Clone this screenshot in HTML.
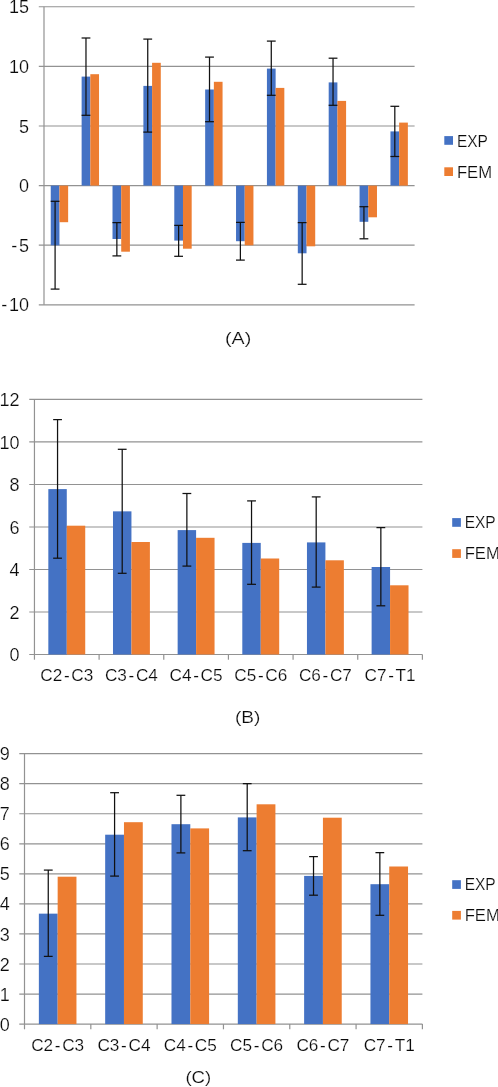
<!DOCTYPE html>
<html lang="en"><head><meta charset="utf-8"><title>EXP vs FEM charts</title>
<style>
html,body{margin:0;padding:0;background:#fff;}
svg{display:block;will-change:transform;}
text{font-family:"Liberation Sans",sans-serif;fill:#0a0a0a;stroke:#fff;stroke-width:0.2px;}
</style></head><body>
<svg width="498" height="1087" viewBox="0 0 498 1087">
<rect width="498" height="1087" fill="#ffffff"/>
<line x1="38.80" y1="6.74" x2="414.60" y2="6.74" stroke="#929292" stroke-width="1.2"/>
<line x1="38.80" y1="66.36" x2="414.60" y2="66.36" stroke="#929292" stroke-width="1.2"/>
<line x1="38.80" y1="125.98" x2="414.60" y2="125.98" stroke="#929292" stroke-width="1.2"/>
<line x1="38.80" y1="185.60" x2="414.60" y2="185.60" stroke="#929292" stroke-width="1.2"/>
<line x1="38.80" y1="245.22" x2="414.60" y2="245.22" stroke="#929292" stroke-width="1.2"/>
<line x1="38.80" y1="304.84" x2="414.60" y2="304.84" stroke="#929292" stroke-width="1.2"/>
<line x1="44.00" y1="6.74" x2="44.00" y2="304.84" stroke="#929292" stroke-width="1.2"/>
<rect x="50.74" y="185.60" width="8.70" height="59.70" fill="#4472C4"/>
<rect x="59.44" y="185.60" width="8.70" height="36.60" fill="#ED7D31"/>
<rect x="81.63" y="76.60" width="8.70" height="109.00" fill="#4472C4"/>
<rect x="90.33" y="74.20" width="8.70" height="111.40" fill="#ED7D31"/>
<rect x="112.51" y="185.60" width="8.70" height="53.40" fill="#4472C4"/>
<rect x="121.21" y="185.60" width="8.70" height="66.10" fill="#ED7D31"/>
<rect x="143.39" y="85.90" width="8.70" height="99.70" fill="#4472C4"/>
<rect x="152.09" y="62.80" width="8.70" height="122.80" fill="#ED7D31"/>
<rect x="174.28" y="185.60" width="8.70" height="55.00" fill="#4472C4"/>
<rect x="182.98" y="185.60" width="8.70" height="63.10" fill="#ED7D31"/>
<rect x="205.16" y="89.50" width="8.70" height="96.10" fill="#4472C4"/>
<rect x="213.86" y="81.80" width="8.70" height="103.80" fill="#ED7D31"/>
<rect x="236.04" y="185.60" width="8.70" height="55.60" fill="#4472C4"/>
<rect x="244.74" y="185.60" width="8.70" height="59.70" fill="#ED7D31"/>
<rect x="266.93" y="68.60" width="8.70" height="117.00" fill="#4472C4"/>
<rect x="275.63" y="87.90" width="8.70" height="97.70" fill="#ED7D31"/>
<rect x="297.81" y="185.60" width="8.70" height="67.70" fill="#4472C4"/>
<rect x="306.51" y="185.60" width="8.70" height="60.70" fill="#ED7D31"/>
<rect x="328.69" y="82.40" width="8.70" height="103.20" fill="#4472C4"/>
<rect x="337.39" y="100.90" width="8.70" height="84.70" fill="#ED7D31"/>
<rect x="359.58" y="185.60" width="8.70" height="36.20" fill="#4472C4"/>
<rect x="368.28" y="185.60" width="8.70" height="31.70" fill="#ED7D31"/>
<rect x="390.46" y="131.40" width="8.70" height="54.20" fill="#4472C4"/>
<rect x="399.16" y="122.60" width="8.70" height="63.00" fill="#ED7D31"/>
<line x1="55.09" y1="201.30" x2="55.09" y2="289.10" stroke="#111111" stroke-width="1.25"/>
<line x1="50.69" y1="201.30" x2="59.49" y2="201.30" stroke="#111111" stroke-width="1.25"/>
<line x1="50.69" y1="289.10" x2="59.49" y2="289.10" stroke="#111111" stroke-width="1.25"/>
<line x1="85.98" y1="38.00" x2="85.98" y2="115.30" stroke="#111111" stroke-width="1.25"/>
<line x1="81.58" y1="38.00" x2="90.38" y2="38.00" stroke="#111111" stroke-width="1.25"/>
<line x1="81.58" y1="115.30" x2="90.38" y2="115.30" stroke="#111111" stroke-width="1.25"/>
<line x1="116.86" y1="222.60" x2="116.86" y2="255.90" stroke="#111111" stroke-width="1.25"/>
<line x1="112.46" y1="222.60" x2="121.26" y2="222.60" stroke="#111111" stroke-width="1.25"/>
<line x1="112.46" y1="255.90" x2="121.26" y2="255.90" stroke="#111111" stroke-width="1.25"/>
<line x1="147.74" y1="39.10" x2="147.74" y2="132.10" stroke="#111111" stroke-width="1.25"/>
<line x1="143.34" y1="39.10" x2="152.14" y2="39.10" stroke="#111111" stroke-width="1.25"/>
<line x1="143.34" y1="132.10" x2="152.14" y2="132.10" stroke="#111111" stroke-width="1.25"/>
<line x1="178.63" y1="225.40" x2="178.63" y2="256.30" stroke="#111111" stroke-width="1.25"/>
<line x1="174.23" y1="225.40" x2="183.03" y2="225.40" stroke="#111111" stroke-width="1.25"/>
<line x1="174.23" y1="256.30" x2="183.03" y2="256.30" stroke="#111111" stroke-width="1.25"/>
<line x1="209.51" y1="57.10" x2="209.51" y2="121.70" stroke="#111111" stroke-width="1.25"/>
<line x1="205.11" y1="57.10" x2="213.91" y2="57.10" stroke="#111111" stroke-width="1.25"/>
<line x1="205.11" y1="121.70" x2="213.91" y2="121.70" stroke="#111111" stroke-width="1.25"/>
<line x1="240.39" y1="222.40" x2="240.39" y2="260.10" stroke="#111111" stroke-width="1.25"/>
<line x1="235.99" y1="222.40" x2="244.79" y2="222.40" stroke="#111111" stroke-width="1.25"/>
<line x1="235.99" y1="260.10" x2="244.79" y2="260.10" stroke="#111111" stroke-width="1.25"/>
<line x1="271.28" y1="41.10" x2="271.28" y2="95.30" stroke="#111111" stroke-width="1.25"/>
<line x1="266.88" y1="41.10" x2="275.68" y2="41.10" stroke="#111111" stroke-width="1.25"/>
<line x1="266.88" y1="95.30" x2="275.68" y2="95.30" stroke="#111111" stroke-width="1.25"/>
<line x1="302.16" y1="222.60" x2="302.16" y2="284.30" stroke="#111111" stroke-width="1.25"/>
<line x1="297.76" y1="222.60" x2="306.56" y2="222.60" stroke="#111111" stroke-width="1.25"/>
<line x1="297.76" y1="284.30" x2="306.56" y2="284.30" stroke="#111111" stroke-width="1.25"/>
<line x1="333.04" y1="58.20" x2="333.04" y2="105.30" stroke="#111111" stroke-width="1.25"/>
<line x1="328.64" y1="58.20" x2="337.44" y2="58.20" stroke="#111111" stroke-width="1.25"/>
<line x1="328.64" y1="105.30" x2="337.44" y2="105.30" stroke="#111111" stroke-width="1.25"/>
<line x1="363.93" y1="206.70" x2="363.93" y2="238.80" stroke="#111111" stroke-width="1.25"/>
<line x1="359.53" y1="206.70" x2="368.33" y2="206.70" stroke="#111111" stroke-width="1.25"/>
<line x1="359.53" y1="238.80" x2="368.33" y2="238.80" stroke="#111111" stroke-width="1.25"/>
<line x1="394.81" y1="106.30" x2="394.81" y2="156.50" stroke="#111111" stroke-width="1.25"/>
<line x1="390.41" y1="106.30" x2="399.21" y2="106.30" stroke="#111111" stroke-width="1.25"/>
<line x1="390.41" y1="156.50" x2="399.21" y2="156.50" stroke="#111111" stroke-width="1.25"/>
<text x="29.00" y="13.29" text-anchor="end" font-size="18.0">15</text>
<text x="29.00" y="72.91" text-anchor="end" font-size="18.0">10</text>
<text x="29.00" y="132.53" text-anchor="end" font-size="18.0">5</text>
<text x="29.00" y="192.15" text-anchor="end" font-size="18.0">0</text>
<text x="29.00" y="251.77" text-anchor="end" font-size="18.0">-<tspan dx="1.7">5</tspan></text>
<text x="29.00" y="311.39" text-anchor="end" font-size="18.0">-<tspan dx="1.7">10</tspan></text>
<rect x="444.30" y="136.10" width="8.70" height="8.70" fill="#4472C4"/>
<rect x="444.30" y="167.30" width="8.70" height="8.70" fill="#ED7D31"/>
<text x="456.90" y="146.60" text-anchor="start" font-size="17.2" textLength="31.00" lengthAdjust="spacingAndGlyphs">EXP</text>
<text x="456.90" y="177.50" text-anchor="start" font-size="17.2" textLength="35.20" lengthAdjust="spacingAndGlyphs">FEM</text>
<text x="238.10" y="344.20" text-anchor="middle" font-size="17.4" textLength="26.20" lengthAdjust="spacingAndGlyphs">(A)</text>
<line x1="29.25" y1="399.46" x2="422.40" y2="399.46" stroke="#929292" stroke-width="1.2"/>
<line x1="29.25" y1="441.97" x2="422.40" y2="441.97" stroke="#929292" stroke-width="1.2"/>
<line x1="29.25" y1="484.48" x2="422.40" y2="484.48" stroke="#929292" stroke-width="1.2"/>
<line x1="29.25" y1="526.98" x2="422.40" y2="526.98" stroke="#929292" stroke-width="1.2"/>
<line x1="29.25" y1="569.49" x2="422.40" y2="569.49" stroke="#929292" stroke-width="1.2"/>
<line x1="29.25" y1="611.99" x2="422.40" y2="611.99" stroke="#929292" stroke-width="1.2"/>
<line x1="29.25" y1="654.50" x2="422.40" y2="654.50" stroke="#929292" stroke-width="1.2"/>
<line x1="34.45" y1="399.46" x2="34.45" y2="654.50" stroke="#929292" stroke-width="1.2"/>
<line x1="34.45" y1="654.50" x2="34.45" y2="659.70" stroke="#929292" stroke-width="1.2"/>
<line x1="99.11" y1="654.50" x2="99.11" y2="659.70" stroke="#929292" stroke-width="1.2"/>
<line x1="163.77" y1="654.50" x2="163.77" y2="659.70" stroke="#929292" stroke-width="1.2"/>
<line x1="228.43" y1="654.50" x2="228.43" y2="659.70" stroke="#929292" stroke-width="1.2"/>
<line x1="293.08" y1="654.50" x2="293.08" y2="659.70" stroke="#929292" stroke-width="1.2"/>
<line x1="357.74" y1="654.50" x2="357.74" y2="659.70" stroke="#929292" stroke-width="1.2"/>
<line x1="422.40" y1="654.50" x2="422.40" y2="659.70" stroke="#929292" stroke-width="1.2"/>
<rect x="48.33" y="489.10" width="18.45" height="165.40" fill="#4472C4"/>
<rect x="66.78" y="525.70" width="18.45" height="128.80" fill="#ED7D31"/>
<rect x="112.99" y="511.35" width="18.45" height="143.15" fill="#4472C4"/>
<rect x="131.44" y="542.00" width="18.45" height="112.50" fill="#ED7D31"/>
<rect x="177.65" y="530.10" width="18.45" height="124.40" fill="#4472C4"/>
<rect x="196.10" y="537.80" width="18.45" height="116.70" fill="#ED7D31"/>
<rect x="242.30" y="542.90" width="18.45" height="111.60" fill="#4472C4"/>
<rect x="260.75" y="558.50" width="18.45" height="96.00" fill="#ED7D31"/>
<rect x="306.96" y="542.40" width="18.45" height="112.10" fill="#4472C4"/>
<rect x="325.41" y="560.30" width="18.45" height="94.20" fill="#ED7D31"/>
<rect x="371.62" y="567.00" width="18.45" height="87.50" fill="#4472C4"/>
<rect x="390.07" y="585.30" width="18.45" height="69.20" fill="#ED7D31"/>
<line x1="57.55" y1="419.60" x2="57.55" y2="558.20" stroke="#111111" stroke-width="1.25"/>
<line x1="53.15" y1="419.60" x2="61.95" y2="419.60" stroke="#111111" stroke-width="1.25"/>
<line x1="53.15" y1="558.20" x2="61.95" y2="558.20" stroke="#111111" stroke-width="1.25"/>
<line x1="122.21" y1="449.30" x2="122.21" y2="573.30" stroke="#111111" stroke-width="1.25"/>
<line x1="117.81" y1="449.30" x2="126.61" y2="449.30" stroke="#111111" stroke-width="1.25"/>
<line x1="117.81" y1="573.30" x2="126.61" y2="573.30" stroke="#111111" stroke-width="1.25"/>
<line x1="186.87" y1="493.50" x2="186.87" y2="566.10" stroke="#111111" stroke-width="1.25"/>
<line x1="182.47" y1="493.50" x2="191.27" y2="493.50" stroke="#111111" stroke-width="1.25"/>
<line x1="182.47" y1="566.10" x2="191.27" y2="566.10" stroke="#111111" stroke-width="1.25"/>
<line x1="251.53" y1="500.90" x2="251.53" y2="584.30" stroke="#111111" stroke-width="1.25"/>
<line x1="247.13" y1="500.90" x2="255.93" y2="500.90" stroke="#111111" stroke-width="1.25"/>
<line x1="247.13" y1="584.30" x2="255.93" y2="584.30" stroke="#111111" stroke-width="1.25"/>
<line x1="316.19" y1="496.90" x2="316.19" y2="587.10" stroke="#111111" stroke-width="1.25"/>
<line x1="311.79" y1="496.90" x2="320.59" y2="496.90" stroke="#111111" stroke-width="1.25"/>
<line x1="311.79" y1="587.10" x2="320.59" y2="587.10" stroke="#111111" stroke-width="1.25"/>
<line x1="380.85" y1="527.60" x2="380.85" y2="605.80" stroke="#111111" stroke-width="1.25"/>
<line x1="376.45" y1="527.60" x2="385.25" y2="527.60" stroke="#111111" stroke-width="1.25"/>
<line x1="376.45" y1="605.80" x2="385.25" y2="605.80" stroke="#111111" stroke-width="1.25"/>
<text x="19.40" y="406.01" text-anchor="end" font-size="18.0">12</text>
<text x="19.40" y="448.52" text-anchor="end" font-size="18.0">10</text>
<text x="19.40" y="491.03" text-anchor="end" font-size="18.0">8</text>
<text x="19.40" y="533.53" text-anchor="end" font-size="18.0">6</text>
<text x="19.40" y="576.04" text-anchor="end" font-size="18.0">4</text>
<text x="19.40" y="618.54" text-anchor="end" font-size="18.0">2</text>
<text x="19.40" y="661.05" text-anchor="end" font-size="18.0">0</text>
<text x="66.78" y="680.90" text-anchor="middle" font-size="17.2">C2<tspan dx="1.65">-</tspan><tspan dx="1.65">C3</tspan></text>
<text x="131.44" y="680.90" text-anchor="middle" font-size="17.2">C3<tspan dx="1.65">-</tspan><tspan dx="1.65">C4</tspan></text>
<text x="196.10" y="680.90" text-anchor="middle" font-size="17.2">C4<tspan dx="1.65">-</tspan><tspan dx="1.65">C5</tspan></text>
<text x="260.75" y="680.90" text-anchor="middle" font-size="17.2">C5<tspan dx="1.65">-</tspan><tspan dx="1.65">C6</tspan></text>
<text x="325.41" y="680.90" text-anchor="middle" font-size="17.2">C6<tspan dx="1.65">-</tspan><tspan dx="1.65">C7</tspan></text>
<text x="390.07" y="680.90" text-anchor="middle" font-size="17.2">C7<tspan dx="1.65">-</tspan><tspan dx="1.65">T1</tspan></text>
<rect x="452.20" y="518.10" width="8.70" height="8.70" fill="#4472C4"/>
<rect x="452.20" y="549.20" width="8.70" height="8.70" fill="#ED7D31"/>
<text x="464.70" y="528.20" text-anchor="start" font-size="17.2" textLength="31.00" lengthAdjust="spacingAndGlyphs">EXP</text>
<text x="464.70" y="559.30" text-anchor="start" font-size="17.2" textLength="35.20" lengthAdjust="spacingAndGlyphs">FEM</text>
<text x="247.60" y="722.70" text-anchor="middle" font-size="17.2" textLength="25.40" lengthAdjust="spacingAndGlyphs">(B)</text>
<line x1="19.30" y1="753.65" x2="422.40" y2="753.65" stroke="#929292" stroke-width="1.2"/>
<line x1="19.30" y1="783.70" x2="422.40" y2="783.70" stroke="#929292" stroke-width="1.2"/>
<line x1="19.30" y1="813.75" x2="422.40" y2="813.75" stroke="#929292" stroke-width="1.2"/>
<line x1="19.30" y1="843.80" x2="422.40" y2="843.80" stroke="#929292" stroke-width="1.2"/>
<line x1="19.30" y1="873.85" x2="422.40" y2="873.85" stroke="#929292" stroke-width="1.2"/>
<line x1="19.30" y1="903.90" x2="422.40" y2="903.90" stroke="#929292" stroke-width="1.2"/>
<line x1="19.30" y1="933.95" x2="422.40" y2="933.95" stroke="#929292" stroke-width="1.2"/>
<line x1="19.30" y1="964.00" x2="422.40" y2="964.00" stroke="#929292" stroke-width="1.2"/>
<line x1="19.30" y1="994.05" x2="422.40" y2="994.05" stroke="#929292" stroke-width="1.2"/>
<line x1="19.30" y1="1024.10" x2="422.40" y2="1024.10" stroke="#929292" stroke-width="1.2"/>
<line x1="24.50" y1="753.65" x2="24.50" y2="1024.10" stroke="#929292" stroke-width="1.2"/>
<line x1="24.50" y1="1024.10" x2="24.50" y2="1029.30" stroke="#929292" stroke-width="1.2"/>
<line x1="90.82" y1="1024.10" x2="90.82" y2="1029.30" stroke="#929292" stroke-width="1.2"/>
<line x1="157.13" y1="1024.10" x2="157.13" y2="1029.30" stroke="#929292" stroke-width="1.2"/>
<line x1="223.45" y1="1024.10" x2="223.45" y2="1029.30" stroke="#929292" stroke-width="1.2"/>
<line x1="289.77" y1="1024.10" x2="289.77" y2="1029.30" stroke="#929292" stroke-width="1.2"/>
<line x1="356.08" y1="1024.10" x2="356.08" y2="1029.30" stroke="#929292" stroke-width="1.2"/>
<line x1="422.40" y1="1024.10" x2="422.40" y2="1029.30" stroke="#929292" stroke-width="1.2"/>
<rect x="38.86" y="913.65" width="18.80" height="110.45" fill="#4472C4"/>
<rect x="57.66" y="876.70" width="18.80" height="147.40" fill="#ED7D31"/>
<rect x="105.17" y="834.70" width="18.80" height="189.40" fill="#4472C4"/>
<rect x="123.97" y="822.20" width="18.80" height="201.90" fill="#ED7D31"/>
<rect x="171.49" y="824.20" width="18.80" height="199.90" fill="#4472C4"/>
<rect x="190.29" y="828.40" width="18.80" height="195.70" fill="#ED7D31"/>
<rect x="237.81" y="817.40" width="18.80" height="206.70" fill="#4472C4"/>
<rect x="256.61" y="804.30" width="18.80" height="219.80" fill="#ED7D31"/>
<rect x="304.12" y="875.90" width="18.80" height="148.20" fill="#4472C4"/>
<rect x="322.93" y="817.70" width="18.80" height="206.40" fill="#ED7D31"/>
<rect x="370.44" y="884.20" width="18.80" height="139.90" fill="#4472C4"/>
<rect x="389.24" y="866.50" width="18.80" height="157.60" fill="#ED7D31"/>
<line x1="48.26" y1="870.10" x2="48.26" y2="956.40" stroke="#111111" stroke-width="1.25"/>
<line x1="43.86" y1="870.10" x2="52.66" y2="870.10" stroke="#111111" stroke-width="1.25"/>
<line x1="43.86" y1="956.40" x2="52.66" y2="956.40" stroke="#111111" stroke-width="1.25"/>
<line x1="114.58" y1="792.70" x2="114.58" y2="876.10" stroke="#111111" stroke-width="1.25"/>
<line x1="110.17" y1="792.70" x2="118.98" y2="792.70" stroke="#111111" stroke-width="1.25"/>
<line x1="110.17" y1="876.10" x2="118.98" y2="876.10" stroke="#111111" stroke-width="1.25"/>
<line x1="180.89" y1="795.30" x2="180.89" y2="852.90" stroke="#111111" stroke-width="1.25"/>
<line x1="176.49" y1="795.30" x2="185.29" y2="795.30" stroke="#111111" stroke-width="1.25"/>
<line x1="176.49" y1="852.90" x2="185.29" y2="852.90" stroke="#111111" stroke-width="1.25"/>
<line x1="247.21" y1="783.65" x2="247.21" y2="850.70" stroke="#111111" stroke-width="1.25"/>
<line x1="242.81" y1="783.65" x2="251.61" y2="783.65" stroke="#111111" stroke-width="1.25"/>
<line x1="242.81" y1="850.70" x2="251.61" y2="850.70" stroke="#111111" stroke-width="1.25"/>
<line x1="313.52" y1="856.60" x2="313.52" y2="895.20" stroke="#111111" stroke-width="1.25"/>
<line x1="309.12" y1="856.60" x2="317.92" y2="856.60" stroke="#111111" stroke-width="1.25"/>
<line x1="309.12" y1="895.20" x2="317.92" y2="895.20" stroke="#111111" stroke-width="1.25"/>
<line x1="379.84" y1="852.65" x2="379.84" y2="915.30" stroke="#111111" stroke-width="1.25"/>
<line x1="375.44" y1="852.65" x2="384.24" y2="852.65" stroke="#111111" stroke-width="1.25"/>
<line x1="375.44" y1="915.30" x2="384.24" y2="915.30" stroke="#111111" stroke-width="1.25"/>
<text x="9.70" y="760.20" text-anchor="end" font-size="18.0">9</text>
<text x="9.70" y="790.25" text-anchor="end" font-size="18.0">8</text>
<text x="9.70" y="820.30" text-anchor="end" font-size="18.0">7</text>
<text x="9.70" y="850.35" text-anchor="end" font-size="18.0">6</text>
<text x="9.70" y="880.40" text-anchor="end" font-size="18.0">5</text>
<text x="9.70" y="910.45" text-anchor="end" font-size="18.0">4</text>
<text x="9.70" y="940.50" text-anchor="end" font-size="18.0">3</text>
<text x="9.70" y="970.55" text-anchor="end" font-size="18.0">2</text>
<text x="9.70" y="1000.60" text-anchor="end" font-size="18.0">1</text>
<text x="9.70" y="1030.65" text-anchor="end" font-size="18.0">0</text>
<text x="57.66" y="1051.00" text-anchor="middle" font-size="17.2">C2<tspan dx="1.65">-</tspan><tspan dx="1.65">C3</tspan></text>
<text x="123.97" y="1051.00" text-anchor="middle" font-size="17.2">C3<tspan dx="1.65">-</tspan><tspan dx="1.65">C4</tspan></text>
<text x="190.29" y="1051.00" text-anchor="middle" font-size="17.2">C4<tspan dx="1.65">-</tspan><tspan dx="1.65">C5</tspan></text>
<text x="256.61" y="1051.00" text-anchor="middle" font-size="17.2">C5<tspan dx="1.65">-</tspan><tspan dx="1.65">C6</tspan></text>
<text x="322.92" y="1051.00" text-anchor="middle" font-size="17.2">C6<tspan dx="1.65">-</tspan><tspan dx="1.65">C7</tspan></text>
<text x="389.24" y="1051.00" text-anchor="middle" font-size="17.2">C7<tspan dx="1.65">-</tspan><tspan dx="1.65">T1</tspan></text>
<rect x="452.20" y="880.20" width="8.70" height="8.70" fill="#4472C4"/>
<rect x="452.20" y="910.90" width="8.70" height="8.70" fill="#ED7D31"/>
<text x="464.70" y="890.20" text-anchor="start" font-size="17.2" textLength="31.00" lengthAdjust="spacingAndGlyphs">EXP</text>
<text x="464.70" y="920.90" text-anchor="start" font-size="17.2" textLength="35.20" lengthAdjust="spacingAndGlyphs">FEM</text>
<text x="198.30" y="1082.80" text-anchor="middle" font-size="17.2" textLength="25.80" lengthAdjust="spacingAndGlyphs">(C)</text>
</svg>
</body></html>
